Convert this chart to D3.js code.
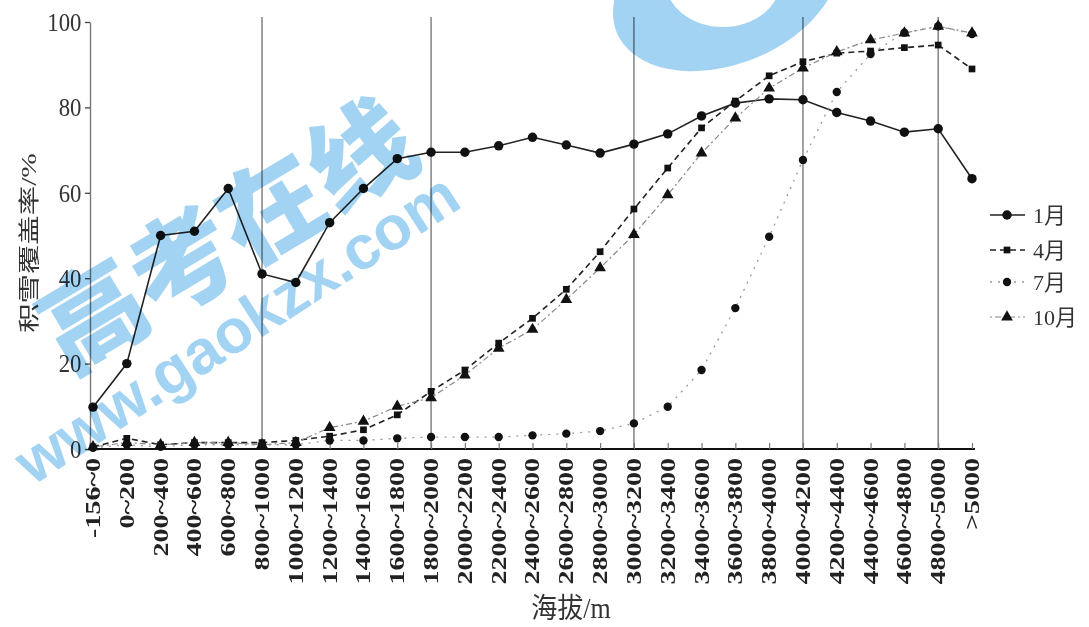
<!DOCTYPE html>
<html>
<head>
<meta charset="utf-8">
<script src="https://cdn.jsdelivr.net/npm/d3@7/dist/d3.min.js"></script>
<style>
  html, body { margin: 0; padding: 0; background: #fff; }
  svg { display: block; }
</style>
</head>
<body>
<svg id="chart" width="1089" height="627"></svg>
<script>
const categories = ["-156~0","0~200","200~400","400~600","600~800","800~1000","1000~1200","1200~1400",
  "1400~1600","1600~1800","1800~2000","2000~2200","2200~2400","2400~2600","2600~2800","2800~3000",
  "3000~3200","3200~3400","3400~3600","3600~3800","3800~4000","4000~4200","4200~4400","4400~4600",
  "4600~4800","4800~5000",">5000"];
const yTicks = [0, 20, 40, 60, 80, 100];
const refLines = ["800~1000","1800~2000","3000~3200","4000~4200","4800~5000"];
const seriesNames = ["1月","4月","7月","10月"];
const jan = [9.8, 20, 50, 51, 61, 41, 39, 53, 61, 68, 69.5, 69.5, 71, 73, 71.2, 69.3, 71.4, 73.8, 78, 81, 82, 81.8, 78.8, 76.8, 74.2, 75, 63.3];
const apr = [0.5, 2.5, 1, 1.5, 1.5, 1.5, 2, 3, 4.5, 8, 13.5, 18.5, 24.8, 30.6, 37.4, 46.2, 56.2, 65.8, 75.2, 81.5, 87.4, 90.7, 92.7, 93.2, 94, 94.6, 89];
const jul = [0.3, 1, 0.5, 1, 1, 1, 1, 2, 2, 2.5, 2.8, 2.8, 2.8, 3.2, 3.6, 4.2, 6, 9.9, 18.5, 33, 49.7, 67.7, 83.6, 92.5, 97.5, 99, 97.2];
const oct = [0.5, 1.5, 1, 1.5, 1.5, 1, 1.5, 5, 6.5, 10, 12, 17.3, 23.6, 28, 35, 42.4, 50.2, 59.5, 69.3, 77.5, 84.5, 89.2, 93, 95.8, 97.4, 99, 97.4];
const xTitle = "海拔/m";
const yTitle = "积雪覆盖率/%";

const serif = "'Liberation Serif','Noto Sans CJK SC',serif";
const svg = d3.select("#chart");
const x = d3.scalePoint().domain(categories).range([93, 972]);
const y = d3.scaleLinear().domain([0, 100]).range([449, 22]);

// reference vertical lines
svg.append("g").selectAll("line").data(refLines).join("line")
  .attr("x1", d => x(d)).attr("x2", d => x(d))
  .attr("y1", y(100) - 5).attr("y2", y(0))
  .attr("stroke", "#8a8a8a").attr("stroke-width", 1.6);

// y axis
const yAxis = svg.append("g").attr("transform", "translate(90,0)")
  .call(d3.axisLeft(y).tickValues(yTicks).tickSize(5).tickSizeOuter(0).tickPadding(4));
yAxis.select(".domain").attr("stroke", "#777").attr("stroke-width", 1.4);
yAxis.selectAll(".tick line").attr("stroke", "#444").attr("stroke-width", 1.3);
yAxis.selectAll(".tick text").attr("font-family", serif).attr("font-size", 24)
  .attr("fill", "#333").attr("transform", "scale(0.95,1.08)");

// x axis
const xAxis = svg.append("g").attr("transform", `translate(0,${y(0)})`)
  .call(d3.axisBottom(x).tickSize(-6).tickSizeOuter(0).tickFormat(""));
xAxis.select(".domain").attr("d", `M90,0H975`).attr("stroke", "#111").attr("stroke-width", 2.2);
xAxis.selectAll(".tick line").attr("stroke", "#777").attr("stroke-width", 1.2);

// x tick labels (vertical)
svg.append("g").selectAll("text").data(categories).join("text")
  .attr("transform", d => `translate(${x(d)},458) rotate(-90) scale(1.4,1)`)
  .attr("text-anchor", "end").attr("dominant-baseline", "central")
  .attr("font-family", serif).attr("font-size", 20).attr("font-weight", "bold")
  .attr("fill", "#222").text(d => d);

// titles
svg.append("text").attr("transform", "translate(571,618) scale(1,1.1)").attr("text-anchor", "middle")
  .attr("font-family", serif).attr("font-size", 26).attr("fill", "#333").text(xTitle);
svg.append("text").attr("transform", "translate(29,243) rotate(-90) scale(1.4,1)")
  .attr("text-anchor", "middle").attr("dominant-baseline", "central")
  .attr("font-family", serif).attr("font-size", 21).attr("fill", "#333").text(yTitle);

// series
const series = [
  {name: seriesNames[0], values: jan, dash: null, stroke: "#222", width: 1.6, sym: d3.symbolCircle, size: 70},
  {name: seriesNames[1], values: apr, dash: "6,4", stroke: "#222", width: 1.6, sym: d3.symbolSquare, size: 45},
  {name: seriesNames[2], values: jul, dash: "2,6", stroke: "#999", width: 1.3, sym: d3.symbolCircle, size: 55},
  {name: seriesNames[3], values: oct, dash: "2,3,6,3", stroke: "#888", width: 1.2, sym: d3.symbolTriangle, size: 60}
];
const line = d3.line().x((d, i) => x(categories[i])).y(d => y(d));
const gS = svg.append("g");
series.forEach(s => {
  gS.append("path").datum(s.values).attr("d", line).attr("fill", "none")
    .attr("stroke", s.stroke).attr("stroke-width", s.width)
    .attr("stroke-dasharray", s.dash);
});
series.slice().reverse().forEach(s => {
  gS.append("g").selectAll("path").data(s.values).join("path")
    .attr("transform", (d, i) => `translate(${x(categories[i])},${y(d)})`)
    .attr("d", d3.symbol().type(s.sym).size(s.size)).attr("fill", "#111");
});

// legend
const lg = svg.append("g").attr("transform", "translate(990,215)");
const rowY = [0, 35, 67, 102];
series.forEach((s, i) => {
  const r = lg.append("g").attr("transform", `translate(0,${rowY[i]})`);
  r.append("line").attr("x1", 0).attr("x2", 35).attr("y1", 0).attr("y2", 0)
    .attr("stroke", s.stroke).attr("stroke-width", s.width).attr("stroke-dasharray", s.dash);
  r.append("path").attr("transform", "translate(17,0)")
    .attr("d", d3.symbol().type(s.sym).size(s.size)).attr("fill", "#111");
  r.append("text").attr("x", 43).attr("y", 0).attr("dominant-baseline", "central")
    .attr("font-family", serif).attr("font-size", 22).attr("fill", "#333").text(s.name);
});

// watermark overlay
const defs = svg.append("defs");
const mask = defs.append("mask").attr("id", "ringmask").attr("maskUnits", "userSpaceOnUse")
  .attr("x", 0).attr("y", 0).attr("width", 1089).attr("height", 627);
mask.append("rect").attr("x", 0).attr("y", 0).attr("width", 1089).attr("height", 627).attr("fill", "#fff");
mask.append("ellipse").attr("cx", 723).attr("cy", -20).attr("rx", 58).attr("ry", 47).attr("fill", "#000");
const wm = svg.append("g").style("mix-blend-mode", "multiply").attr("fill", "#a3d3f3");
wm.append("g").attr("mask", "url(#ringmask)")
  .append("ellipse").attr("transform", "translate(726,-12) rotate(-22)")
  .attr("rx", 118).attr("ry", 76);
wm.append("text").attr("transform", "translate(223,229) rotate(-31)")
  .attr("text-anchor", "middle").attr("dominant-baseline", "central")
  .attr("font-family", "'Noto Sans CJK SC',sans-serif").attr("font-weight", "900")
  .attr("font-size", 104).text("高考在线");
wm.append("text").attr("transform", "translate(464,206) rotate(-33)")
  .attr("text-anchor", "end").attr("dominant-baseline", "alphabetic")
  .attr("font-family", "'Liberation Sans',Arial,sans-serif").attr("font-weight", "bold")
  .attr("font-size", 62).text("www.gaokzx.com");
</script>
</body>
</html>
